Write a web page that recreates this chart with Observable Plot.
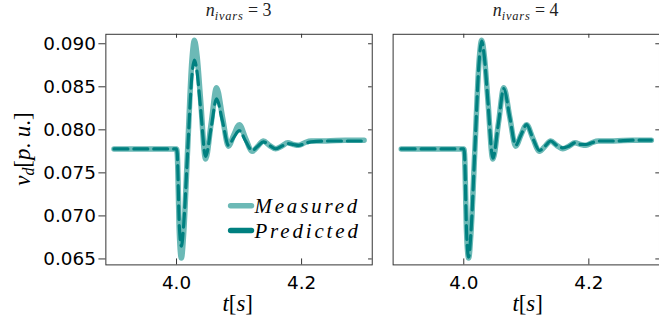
<!DOCTYPE html>
<html>
<head>
<meta charset="utf-8">
<script src="https://cdn.jsdelivr.net/npm/d3@7"></script>
<script src="https://cdn.jsdelivr.net/npm/@observablehq/plot@0.6"></script>
<style>
  body { margin: 0; background: #fff; }
  #fig { position: relative; width: 659px; height: 328px; overflow: hidden; }
  #fig text.serif, #fig text.serif tspan { font-family: "Liberation Serif", "Times New Roman", serif; }
</style>
</head>
<body>
<div id="fig"></div>
<script>
// Sample times [s]
const time = [3.900, 4.000, 4.0012, 4.0045, 4.0078, 4.0115, 4.0178, 4.0245, 4.0286, 4.0330,
              4.0385, 4.0465, 4.0555, 4.0640, 4.0735, 4.0830, 4.0915, 4.1005, 4.1105, 4.1210,
              4.1300, 4.1390, 4.1485, 4.1585, 4.1680, 4.1780, 4.1870, 4.1955, 4.2050, 4.2150,
              4.2400, 4.2700, 4.3000];

// v_d [p.u.] measured
const measured = [0.07778, 0.07778, 0.0772, 0.0680, 0.0651, 0.0680, 0.0778, 0.0880, 0.0904, 0.0885,
                  0.0835, 0.0766, 0.0808, 0.0849, 0.0815, 0.0781, 0.0794, 0.0806, 0.0790, 0.0775,
                  0.0781, 0.0787, 0.0782, 0.0778, 0.0781, 0.0785, 0.0783, 0.0782, 0.0785, 0.0787,
                  0.0787, 0.0788, 0.0788];

// v_d predicted with 3 input variables
const predicted3 = [0.07778, 0.07778, 0.0772, 0.0688, 0.0665, 0.0690, 0.0775, 0.0862, 0.0881, 0.0866,
                    0.0825, 0.0769, 0.0803, 0.0836, 0.0810, 0.0782, 0.0791, 0.0799, 0.0787, 0.0776,
                    0.0781, 0.0786, 0.0782, 0.0778, 0.0781, 0.0784, 0.0783, 0.0782, 0.0784, 0.0786,
                    0.0787, 0.0787, 0.0787];

// v_d predicted with 4 input variables
const predicted4 = [0.07778, 0.07778, 0.0772, 0.0681, 0.0652, 0.0681, 0.0778, 0.0879, 0.0903, 0.0884,
                    0.0834, 0.0767, 0.0808, 0.0848, 0.0815, 0.0782, 0.0794, 0.0806, 0.0790, 0.0776,
                    0.0781, 0.0787, 0.0782, 0.0779, 0.0781, 0.0785, 0.0783, 0.0783, 0.0785, 0.0787,
                    0.0787, 0.0788, 0.0788];

const panels = ["3", "4"];
const xTicks = [4.0, 4.2];
const yTicks = [0.065, 0.070, 0.075, 0.080, 0.085, 0.090];
const seriesNames = ["Measured", "Predicted"];

const light = "#6cb9b6";
const dark = "#008080";
const frameColor = "#333";

const toRows = (vals, panel, series) => time.map((t, i) => ({t, v: vals[i], panel, series}));
const measuredRows = panels.flatMap(p => toRows(measured, p, seriesNames[0]));
const predictedRows = [
  ...toRows(predicted3, "3", seriesNames[1]),
  ...toRows(predicted4, "4", seriesNames[1])
];

const W = 663, H = 328, mL = 106, mR = 0, mT = 34, mB = 62;
const frameH = H - mT - mB;
const bandW = 268.3;

const chart = Plot.plot({
  width: W,
  height: H,
  marginLeft: mL,
  marginRight: mR,
  marginTop: mT,
  marginBottom: mB,
  style: {fontFamily: "DejaVu Sans", color: "#000", background: "#fff"},
  fx: {domain: panels, paddingInner: 0.0727, paddingOuter: 0, axis: null},
  x: {domain: [3.887, 4.313]},
  y: {domain: [0.06431, 0.0911]},
  marks: [
    Plot.frame({stroke: frameColor, strokeWidth: 1}),
    Plot.axisY({ticks: yTicks, tickFormat: ".3f", tickSize: 7, tickPadding: 3,
                fontSize: 18.5, label: null, stroke: frameColor}),
    Plot.axisX({ticks: xTicks, tickFormat: ".1f", tickSize: 0, tickPadding: 11,
                fontSize: 18.5, label: null}),
    // inward ticks on bottom, top and right edges
    Plot.tickX(xTicks, {x: d => d, insetTop: frameH - 6, stroke: frameColor}),
    Plot.tickX(xTicks, {x: d => d, insetBottom: frameH - 4, stroke: frameColor}),
    Plot.tickY(yTicks, {y: d => d, insetLeft: bandW - 4, stroke: frameColor}),
    Plot.lineY(measuredRows, {x: "t", y: "v", fx: "panel", stroke: light, strokeWidth: 5.5,
                              curve: "monotone-x"}),
    Plot.lineY(predictedRows, {x: "t", y: "v", fx: "panel", stroke: dark, strokeWidth: 3.2,
                               strokeDasharray: "14,6", curve: "monotone-x"})
  ]
});

document.getElementById("fig").appendChild(chart);

const svg = d3.select(chart);

// panel titles: n_{ivars} = k
const centers = [mL + bandW / 2, W - bandW / 2];
panels.forEach((p, i) => {
  const t = svg.append("text").attr("class", "serif")
    .attr("x", centers[i]).attr("y", 16)
    .style("text-anchor", "middle")
    .style("font-size", "18px").style("fill", "#222");
  t.append("tspan").style("font-style", "italic").text("n");
  t.append("tspan").style("font-style", "italic").style("font-size", "12.5px").attr("dy", 4)
    .style("letter-spacing", "0.8px").text("ivars");
  t.append("tspan").attr("dy", -4).text(" = " + p);
});

// axis titles
[centers[0] - 1, centers[1] + 2].forEach(cx => {
  const t = svg.append("text").attr("class", "serif")
    .attr("x", cx).attr("y", 313)
    .style("text-anchor", "middle")
    .style("font-size", "23px").style("fill", "#000");
  t.append("tspan").style("font-style", "italic").text("t");
  t.append("tspan").text("[");
  t.append("tspan").style("font-style", "italic").text("s");
  t.append("tspan").text("]");
});

const yl = svg.append("text").attr("class", "serif")
  .attr("transform", `translate(30,${mT + frameH / 2}) rotate(-90)`)
  .style("text-anchor", "middle")
  .style("font-size", "23px").style("fill", "#000");
yl.append("tspan").style("font-style", "italic").text("v");
yl.append("tspan").style("font-style", "italic").style("font-size", "16px").attr("dy", 4).text("d");
yl.append("tspan").attr("dy", -4).text("[");
yl.append("tspan").style("font-style", "italic").text("p");
yl.append("tspan").text(". ");
yl.append("tspan").style("font-style", "italic").text("u");
yl.append("tspan").text(".]");

// legend inside the left panel
const legend = svg.append("g");
[[seriesNames[0], light, 207], [seriesNames[1], dark, 232]].forEach(([name, color, y]) => {
  legend.append("line")
    .attr("x1", 232).attr("x2", 253).attr("y1", y).attr("y2", y)
    .attr("stroke", color).attr("stroke-width", 5.5).attr("stroke-linecap", "round");
  legend.append("text").attr("class", "serif")
    .attr("x", 256).attr("y", y + 7)
    .style("text-anchor", "start")
    .style("font-style", "italic").style("font-size", "21px")
    .style("letter-spacing", "2.9px").style("fill", "#000")
    .text(name);
});
</script>
</body>
</html>
